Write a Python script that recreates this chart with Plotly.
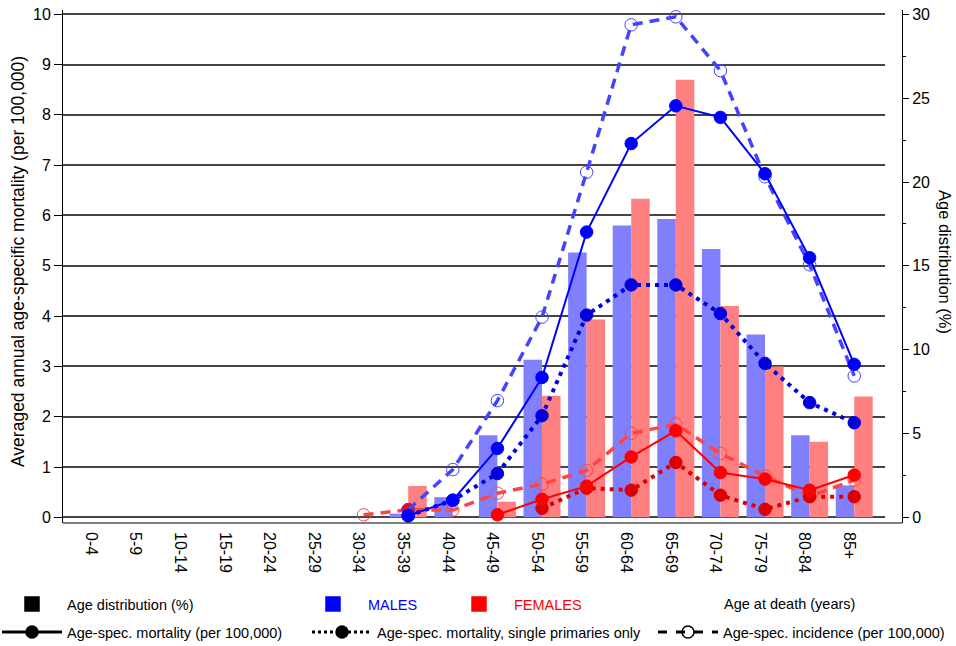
import plotly.graph_objects as go

# ---------------- data ----------------
age_groups = ["0-4", "5-9", "10-14", "15-19", "20-24", "25-29", "30-34", "35-39",
              "40-44", "45-49", "50-54", "55-59", "60-64", "65-69", "70-74",
              "75-79", "80-84", "85+"]

# age distribution (%) -> right axis
male_dist = [0, 0, 0, 0, 0, 0, 0, 0.22, 1.2, 4.9, 9.4, 15.8, 17.4, 17.8, 16.0, 10.9, 4.9, 1.9]
female_dist = [0, 0, 0, 0, 0, 0, 0, 1.87, 0, 0.93, 7.25, 11.8, 19.0, 26.1, 12.6, 9.0, 4.5, 7.2]

N = None
# age-specific mortality per 100,000 -> left axis
male_mort = [N, N, N, N, N, N, N, 0.03, 0.34, 1.37, 2.78, 5.67, 7.43, 8.18, 7.95, 6.83, 5.16, 3.04]
male_single = [N, N, N, N, N, N, N, 0.03, 0.34, 0.87, 2.02, 4.02, 4.62, 4.62, 4.05, 3.06, 2.28, 1.88]
male_incid = [N, N, N, N, N, N, N, 0.15, 0.95, 2.32, 3.98, 6.86, 9.79, 9.95, 8.88, 6.77, 5.02, 2.81]

female_mort = [N, N, N, N, N, N, N, 0.15, N, 0.05, 0.36, 0.62, 1.20, 1.72, 0.89, 0.76, 0.54, 0.84]
female_single = [N, N, N, N, N, N, N, 0.15, N, N, 0.18, 0.58, 0.54, 1.09, 0.44, 0.16, 0.41, 0.41]
female_incid = [N, N, N, N, N, N, 0.05, 0.15, 0.145, 0.48, 0.66, 0.93, 1.67, 1.85, 1.27, 0.82, 0.42, 0.74]

# ---------------- style ----------------
FONT = "Liberation Sans, Arial, sans-serif"
BLUE, BLUE_DK, BLUE_LT = "#0000FF", "#0000DD", "#4444FF"
RED, RED_DK, RED_LT = "#FF0000", "#DD0000", "#FF4444"
BAR_W = 0.415

fig = go.Figure()

# bars (base axis y = age distribution, right side)
fig.add_trace(go.Bar(x=age_groups, y=male_dist, yaxis="y", marker_color="#8080FF",
                     marker_line_width=0, width=BAR_W, offset=-BAR_W, showlegend=False))
fig.add_trace(go.Bar(x=age_groups, y=female_dist, yaxis="y", marker_color="#FF8080",
                     marker_line_width=0, width=BAR_W, offset=0, showlegend=False))


def line_trace(vals, color, dash, width, open_marker):
    return go.Scatter(
        x=age_groups, y=vals, yaxis="y2", mode="lines+markers",
        line=dict(color=color, dash=dash, width=width),
        marker=dict(size=12.5, symbol="circle-open" if open_marker else "circle",
                    color=color, line=dict(width=1, color=color)),
        showlegend=False, connectgaps=False)


fig.add_trace(line_trace(female_incid, RED_LT, "10px,7px", 3.5, True))
fig.add_trace(line_trace(female_single, RED_DK, "4px,5px", 4, False))
fig.add_trace(line_trace(female_mort, RED, "solid", 2, False))
fig.add_trace(line_trace(male_incid, BLUE_LT, "10px,7px", 3.5, True))
fig.add_trace(line_trace(male_single, BLUE_DK, "4px,5px", 4, False))
fig.add_trace(line_trace(male_mort, BLUE, "solid", 2, False))

# ---------------- legend keys ----------------
legend_items = [
    ("legend", "Age distribution (%)", "black", "markers", "solid", "square"),
    ("legend2", "<span style='color:#0000FF'>MALES</span>", BLUE, "markers", "solid", "square"),
    ("legend3", "<span style='color:#FF0000'>FEMALES</span>", RED, "markers", "solid", "square"),
    ("legend4", "Age-spec. mortality (per 100,000)", "black", "lines+markers", "solid", "circle"),
    ("legend5", "Age-spec. mortality, single primaries only", "black", "lines+markers", "dot", "circle"),
    ("legend6", "Age-spec. incidence (per 100,000)", "black", "lines+markers", "dash", "circle-open"),
]
for lg, name, col, mode, dash, sym in legend_items:
    fig.add_trace(go.Scatter(
        x=[None], y=[None], yaxis="y2", mode=mode, name=name, legend=lg,
        line=dict(color=col, dash=dash, width=3),
        marker=dict(size=14 if sym == "square" else 12, symbol=sym, color=col,
                    line=dict(width=1.5, color=col)),
        showlegend=True))

# plot area geometry (page pixels): left 63, right 902, top 10, bottom 523
W, H = 956, 646
L, R, T, B = 63, 902, 10, 523
pw, ph = R - L, B - T


def px_x(x):
    return (x - L) / pw


def px_y(y):
    return (B - y) / ph


leg_common = dict(orientation="h", yanchor="middle", xanchor="left",
                  bgcolor="rgba(0,0,0,0)", font=dict(family=FONT, size=14.5, color="black"),
                  itemwidth=60, tracegroupgap=0)
row1, row2 = 604, 632
fig.update_layout(
    legend=dict(x=px_x(-3), y=px_y(row1), **leg_common),
    legend2=dict(x=px_x(298), y=px_y(row1), **leg_common),
    legend3=dict(x=px_x(444), y=px_y(row1), **leg_common),
    legend4=dict(x=px_x(-3), y=px_y(row2), **leg_common),
    legend5=dict(x=px_x(307), y=px_y(row2), **leg_common),
    legend6=dict(x=px_x(653), y=px_y(row2), **leg_common),
)

xdom_end = (885 - L) / pw
fig.update_layout(
    width=W, height=H,
    margin=dict(l=L, r=W - R, t=T, b=H - B, pad=0, autoexpand=False),
    paper_bgcolor="white", plot_bgcolor="white",
    font=dict(family=FONT, size=16, color="black"),
    barmode="overlay",
    xaxis=dict(type="category", categoryorder="array", categoryarray=age_groups,
               domain=[0, xdom_end], range=[-0.74, 17.69], tickangle=90,
               showgrid=False, zeroline=False, showline=False, ticks="",
               ticklabelstandoff=8, ticklabelshift=-5,
               tickfont=dict(family=FONT, size=16, color="black")),
    yaxis=dict(side="right", anchor="free", position=1.0,
               range=[-0.34, 30.26], tickvals=[0, 5, 10, 15, 20, 25, 30],
               ticks="outside", ticklen=6, tickwidth=1, tickcolor="black",
               minor=dict(dtick=2.5, ticks="outside", ticklen=3, tickcolor="black", showgrid=False),
               showline=True, linecolor="black", linewidth=1,
               showgrid=False, zeroline=False,
               tickfont=dict(family=FONT, size=16, color="black")),
    yaxis2=dict(overlaying="y", side="left", anchor="x",
                range=[-0.113, 10.085], dtick=1, tick0=0,
                ticks="outside", ticklen=8, tickwidth=1, tickcolor="black",
                showline=True, linecolor="black", linewidth=1,
                showgrid=True, gridcolor="#444444", gridwidth=1.6, zeroline=False,
                tickfont=dict(family=FONT, size=16, color="black")),
    shapes=[dict(type="line", xref="paper", yref="paper", x0=0, x1=1, y0=0, y1=0,
                 line=dict(color="black", width=1))],
    annotations=[
        dict(text="Averaged annual age-specific mortality (per 100,000)", textangle=-90,
             xref="paper", yref="paper", x=px_x(18), y=px_y(262), xanchor="center",
             yanchor="middle", showarrow=False, font=dict(family=FONT, size=17.5, color="black")),
        dict(text="Age distribution (%)", textangle=90,
             xref="paper", yref="paper", x=px_x(945), y=px_y(262), xanchor="center",
             yanchor="middle", showarrow=False, font=dict(family=FONT, size=16.5, color="black")),
        dict(text="Age at death (years)", xref="paper", yref="paper",
             x=px_x(722), y=px_y(row1), xanchor="left", yanchor="middle",
             showarrow=False, font=dict(family=FONT, size=14.5, color="black")),
    ],
)

fig.write_html("out.html", config={"displayModeBar": False},
               post_script="document.body.style.margin='0px';")
